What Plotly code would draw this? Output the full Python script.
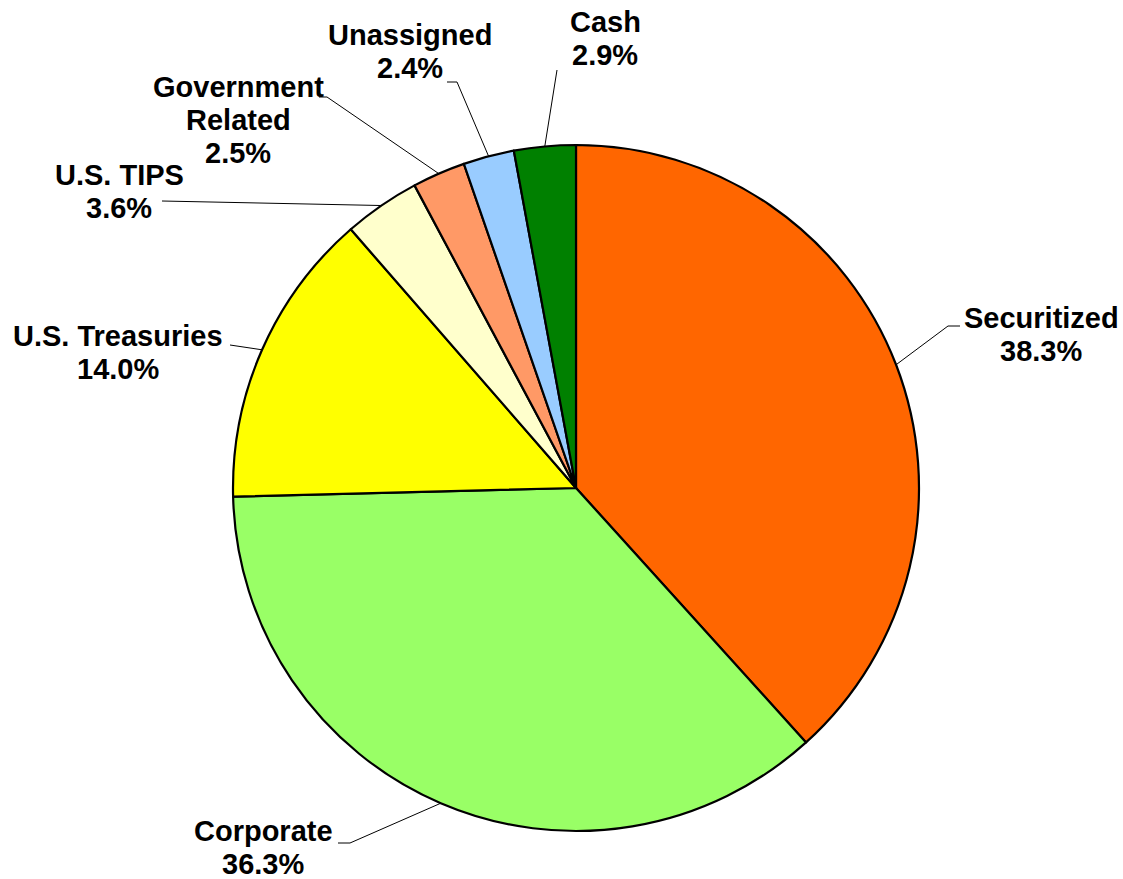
import math
import plotly.graph_objects as go

# ---- data ----
categories = ["Securitized", "Corporate", "U.S. Treasuries", "U.S. TIPS",
              "Government Related", "Unassigned", "Cash"]
values = [38.3, 36.3, 14.0, 3.6, 2.5, 2.4, 2.9]
label_lines = [["Securitized"], ["Corporate"], ["U.S. Treasuries"], ["U.S. TIPS"],
               ["Government", "Related"], ["Unassigned"], ["Cash"]]
colors = ["#FF6600", "#99FF66", "#FFFF00", "#FFFFCC", "#FF9966", "#99CCFF", "#008000"]

# ---- layout (pixels) ----
W, H = 1123, 879
CX, CY, R = 576, 488, 343
# label text centre x and first-line centre y
label_pos = [(1041, 318), (263, 831), (118, 336), (119, 175),
             (238, 87), (410, 35), (605, 22)]
# leader line points near the label (start, optional elbow)
leader_pts = [[(960, 326), (948, 326)], [(338, 843), (350, 843)], [(230, 345)],
              [(162, 201)], [(319, 97), (327, 97)], [(447, 82), (457, 82)],
              [(557, 70)]]
LINE_H = 33
FONT = dict(family="Liberation Sans, Arial, sans-serif", size=29, color="black", weight="bold")

fig = go.Figure()
fig.add_trace(go.Pie(
    labels=categories, values=values, sort=False, direction="clockwise", rotation=0,
    marker=dict(colors=colors, line=dict(color="black", width=2.2)),
    textinfo="none", hoverinfo="label+percent", showlegend=False,
    domain=dict(x=[(CX - R) / W, (CX + R) / W], y=[(H - CY - R) / H, (H - CY + R) / H]),
))

total = sum(values)
cum = 0.0
annotations = []
for i, v in enumerate(values):
    mid = (cum + v / 2) / total * 2 * math.pi
    cum += v
    ex, ey = CX + R * math.sin(mid), CY - R * math.cos(mid)
    pts = leader_pts[i] + [(ex, ey)]
    fig.add_trace(go.Scatter(x=[p[0] for p in pts], y=[p[1] for p in pts], mode="lines",
                             line=dict(color="black", width=1), hoverinfo="skip",
                             showlegend=False))
    lines = label_lines[i] + [f"{v:.1f}%"]
    lx, ly = label_pos[i]
    for j, t in enumerate(lines):
        annotations.append(dict(x=lx, y=ly + j * LINE_H, xref="x", yref="y", text=t,
                                showarrow=False, font=FONT, xanchor="center",
                                yanchor="middle", borderpad=0))

fig.update_layout(
    width=W, height=H, margin=dict(l=0, r=0, t=0, b=0),
    paper_bgcolor="white", plot_bgcolor="rgba(0,0,0,0)",
    xaxis=dict(range=[0, W], visible=False, fixedrange=True, domain=[0, 1]),
    yaxis=dict(range=[H, 0], visible=False, fixedrange=True, domain=[0, 1]),
    annotations=annotations,
)
fig.write_html("out.html")
